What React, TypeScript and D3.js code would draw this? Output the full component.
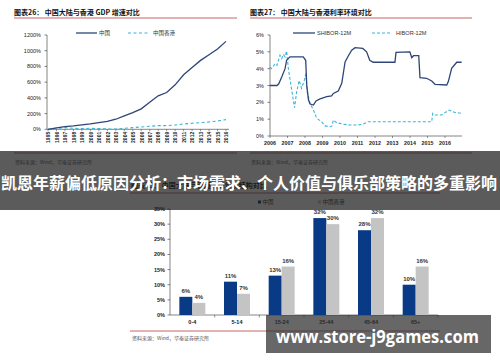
import * as d3 from "d3";

// 图表26: GDP growth vs 1995
const gdpYears = d3.range(1995, 2017);
const gdpChina = [0, 17, 34, 43, 55, 68, 85, 102, 128, 170, 213, 260, 345, 426, 468, 566, 694, 787, 877, 949, 1021, 1119];
const gdpHK = [0, 13, 21, 13, 9, 13, 9, 4, 4, 13, 21, 30, 38, 47, 47, 55, 68, 77, 85, 94, 106, 123];
const gdpTicks = [0, 200, 400, 600, 800, 1000, 1200];

// 图表27: 12M rates
const shiborT = [2006.0, 2006.4, 2006.5, 2006.67, 2006.86, 2006.95, 2007.14, 2007.9, 2008.04, 2008.1, 2008.2, 2008.29, 2008.48, 2008.63, 2008.86, 2009.24, 2009.52, 2009.62, 2009.9, 2010.1, 2010.29, 2010.48, 2010.67, 2010.86, 2011.3, 2011.52, 2011.7, 2011.9, 2013.14, 2013.2, 2013.99, 2014.1, 2014.2, 2014.5, 2014.57, 2014.95, 2015.24, 2015.43, 2016.1, 2016.19, 2016.38, 2016.67, 2016.95];
const shiborV = [3.0, 3.0, 3.1, 3.5, 4.0, 4.5, 4.7, 4.7, 4.5, 3.0, 2.14, 1.9, 1.84, 2.08, 2.2, 2.34, 2.38, 2.53, 2.67, 3.13, 4.4, 4.77, 5.1, 5.25, 5.2, 5.0, 4.5, 4.38, 4.38, 4.97, 5.0, 4.65, 4.77, 4.77, 3.47, 3.43, 3.27, 3.07, 3.03, 3.23, 4.02, 4.38, 4.38];
const hiborT = [2006.0, 2006.1, 2006.29, 2006.4, 2006.57, 2006.67, 2006.76, 2006.86, 2006.95, 2007.05, 2007.24, 2007.4, 2007.52, 2007.67, 2007.8, 2007.96, 2008.05, 2008.13, 2008.29, 2008.48, 2008.67, 2008.95, 2009.14, 2009.43, 2009.55, 2009.62, 2009.81, 2010.19, 2010.57, 2011.0, 2011.3, 2011.6, 2015.24, 2015.3, 2015.43, 2015.81, 2016.0, 2016.24, 2016.57, 2016.95];
const hiborV = [4.1, 4.0, 4.3, 4.2, 4.8, 4.6, 4.85, 4.7, 5.05, 4.0, 2.73, 1.68, 2.6, 3.3, 2.83, 3.3, 3.7, 2.6, 1.94, 1.55, 1.05, 0.85, 0.6, 0.55, 0.6, 0.95, 0.79, 0.7, 0.65, 0.65, 0.7, 0.85, 0.85, 1.35, 1.25, 1.25, 1.39, 1.54, 1.4, 1.35];
const rateYears = d3.range(2006, 2017);
const rateTicks = [0, 1, 2, 3, 4, 5, 6];

// 图表28: age structure
const ageGroups = ["0-4", "5-14", "15-24", "25-44", "45-64", "65+"];
const ageChina = [6, 11, 13, 32, 28, 10];
const ageHK = [4, 7, 16, 30, 32, 16];
const ageTicks = [0, 5, 10, 15, 20, 25, 30, 35];
const ageSeries = ["中国", "中国香港"];

const NAVY = "#2d4677";
const CYAN = "#3bb3da";
const RED = "#b5403c";
const CJK = "'Noto Sans CJK SC', 'Liberation Sans', sans-serif";
const LAT = "'Liberation Sans', Arial, sans-serif";

function GdpChart() {
  const x = d3.scaleLinear().domain([1995, 2016]).range([48, 226]);
  const y = d3.scaleLinear().domain([0, 1200]).range([129.3, 35]);
  const line = d3
    .line<number>()
    .x((_, i) => x(gdpYears[i]))
    .y((d) => y(d));
  return (
    <g>
      <text x={14} y={14.5} fontFamily={CJK} fontWeight={700} fontSize={7} fill="#111">
        图表26：  中国大陆与香港 GDP 增速对比
      </text>
      <line x1={14} x2={237} y1={18} y2={18} stroke={RED} strokeWidth={0.8} />
      <line x1={47} x2={47} y1={y(1200)} y2={y(0)} stroke="#333" strokeWidth={0.6} />
      <line x1={47} x2={229} y1={y(0)} y2={y(0)} stroke="#333" strokeWidth={0.6} />
      {gdpTicks.map((t) => (
        <g key={t}>
          <line x1={44.5} x2={47} y1={y(t)} y2={y(t)} stroke="#333" strokeWidth={0.6} />
          <text x={41} y={y(t) + 2} textAnchor="end" fontFamily={LAT} fontSize={5.5} fill="#222">
            {t}%
          </text>
        </g>
      ))}
      {gdpYears.map((yr) => (
        <g key={yr}>
          <line x1={x(yr)} x2={x(yr)} y1={y(0)} y2={y(0) + 2} stroke="#333" strokeWidth={0.5} />
          <text
            transform={`translate(${x(yr) + 0.3},${y(0) + 2.5}) rotate(-90)`}
            textAnchor="end"
            dominantBaseline="central"
            fontFamily={LAT}
            fontWeight={700}
            fontSize={5}
            fill="#222"
          >
            {yr}
          </text>
        </g>
      ))}
      <path d={line(gdpHK) ?? ""} fill="none" stroke={CYAN} strokeWidth={1.1} strokeDasharray="3,2.5" />
      <path d={line(gdpChina) ?? ""} fill="none" stroke={NAVY} strokeWidth={1.3} />
      <line x1={76} x2={97} y1={33} y2={33} stroke={NAVY} strokeWidth={1.3} />
      <text x={99} y={35} fontFamily={CJK} fontSize={5.5} fill="#333">中国</text>
      <line x1={128} x2={148} y1={33} y2={33} stroke={CYAN} strokeWidth={1.1} strokeDasharray="3,2.5" />
      <text x={153} y={35} fontFamily={CJK} fontSize={5.5} fill="#333">中国香港</text>
      <line x1={14} x2={237} y1={153} y2={153} stroke={RED} strokeWidth={0.8} />
      <text x={15} y={164} fontFamily={CJK} fontSize={5} fill="#555">资料来源：Wind，华泰证券研究所</text>
    </g>
  );
}

function RateChart() {
  const x = d3.scaleLinear().domain([2006, 2016]).range([270, 445]);
  const y = d3.scaleLinear().domain([0, 6]).range([136, 35]);
  const pts = (t: number[], v: number[]) => t.map((d, i) => [x(d), y(v[i])] as [number, number]);
  const line = d3.line();
  const xEnd = x(2016.97);
  return (
    <g>
      <text x={250} y={14.5} fontFamily={CJK} fontWeight={700} fontSize={7} fill="#111">
        图表27：  中国大陆与香港利率环境对比
      </text>
      <line x1={250} x2={472} y1={18} y2={18} stroke={RED} strokeWidth={0.8} />
      <line x1={270} x2={270} y1={y(6)} y2={y(0)} stroke="#333" strokeWidth={0.6} />
      <line x1={270} x2={xEnd} y1={y(0)} y2={y(0)} stroke="#333" strokeWidth={0.6} />
      {rateTicks.map((t) => (
        <g key={t}>
          <line x1={267.5} x2={270} y1={y(t)} y2={y(t)} stroke="#333" strokeWidth={0.6} />
          <text x={264} y={y(t) + 2} textAnchor="end" fontFamily={LAT} fontSize={5.5} fill="#222">
            {t}%
          </text>
        </g>
      ))}
      {rateYears.map((yr) => (
        <g key={yr}>
          <line x1={x(yr)} x2={x(yr)} y1={y(0)} y2={y(0) + 2} stroke="#333" strokeWidth={0.5} />
          <text x={x(yr)} y={145} textAnchor="middle" fontFamily={LAT} fontWeight={700} fontSize={5.3} fill="#222">
            {yr}
          </text>
        </g>
      ))}
      <path d={line(pts(hiborT, hiborV)) ?? ""} fill="none" stroke={CYAN} strokeWidth={1.1} strokeDasharray="3,2" />
      <path d={line(pts(shiborT, shiborV)) ?? ""} fill="none" stroke={NAVY} strokeWidth={1.3} />
      <line x1={293} x2={315} y1={33} y2={33} stroke={NAVY} strokeWidth={1.3} />
      <text x={317} y={35} fontFamily={LAT} fontSize={5.6} fill="#333">SHIBOR-12M</text>
      <line x1={372} x2={392} y1={33} y2={33} stroke={CYAN} strokeWidth={1.1} strokeDasharray="3,2" />
      <text x={396} y={35} fontFamily={LAT} fontSize={5.6} fill="#333">HIBOR-12M</text>
      <line x1={250} x2={472} y1={153} y2={153} stroke={RED} strokeWidth={0.8} />
      <text x={251} y={164} fontFamily={CJK} fontSize={5} fill="#555">资料来源：Wind，华泰证券研究所</text>
    </g>
  );
}

function AgeChart() {
  const x0 = d3.scaleBand().domain(ageGroups).range([170, 438]).padding(0);
  const x1 = d3.scaleBand().domain(ageSeries).range([0, x0.bandwidth()]).paddingOuter(0.72).paddingInner(0);
  const y = d3.scaleLinear().domain([0, 35]).range([315, 209]);
  const colors = ["#083a85", "#c4c4c4"];
  const vals = [ageChina, ageHK];
  return (
    <g>
      <text x={131} y={188} fontFamily={CJK} fontWeight={700} fontSize={7} fill="#111">
        图表28：  中国大陆与香港人口年龄结构对比
      </text>
      <line x1={130} x2={440} y1={193} y2={193} stroke={RED} strokeWidth={0.8} />
      {ageSeries.map((s, i) => (
        <g key={s}>
          <rect x={258 + i * 60} y={200.5} width={3} height={3} fill={colors[i]} />
          <text x={262.5 + i * 60} y={204} fontFamily={CJK} fontSize={5.5} fill="#333">{s}</text>
        </g>
      ))}
      <line x1={170} x2={170} y1={y(35)} y2={y(0)} stroke="#333" strokeWidth={0.6} />
      <line x1={170} x2={438} y1={y(0)} y2={y(0)} stroke="#333" strokeWidth={0.6} />
      {ageTicks.map((t) => (
        <g key={t}>
          <line x1={167.5} x2={170} y1={y(t)} y2={y(t)} stroke="#333" strokeWidth={0.6} />
          <text x={165} y={y(t) + 2} textAnchor="end" fontFamily={LAT} fontWeight={700} fontSize={5.5} fill="#222">
            {t}%
          </text>
        </g>
      ))}
      {ageGroups.map((g, gi) => (
        <g key={g}>
          <line
            x1={(x0(g) ?? 0) + x0.bandwidth()}
            x2={(x0(g) ?? 0) + x0.bandwidth()}
            y1={y(0)}
            y2={y(0) + 2.5}
            stroke="#333"
            strokeWidth={0.5}
          />
          <text
            x={(x0(g) ?? 0) + x0.bandwidth() / 2}
            y={324}
            textAnchor="middle"
            fontFamily={LAT}
            fontWeight={700}
            fontSize={5.5}
            fill="#222"
          >
            {g}
          </text>
          {ageSeries.map((s, si) => {
            const v = vals[si][gi];
            const bx = (x0(g) ?? 0) + (x1(s) ?? 0);
            return (
              <g key={s}>
                <rect x={bx} y={y(v)} width={x1.bandwidth()} height={y(0) - y(v)} fill={colors[si]} />
                <text
                  x={bx + x1.bandwidth() / 2}
                  y={y(v) - 4}
                  textAnchor="middle"
                  fontFamily={LAT}
                  fontWeight={700}
                  fontSize={6}
                  fill="#333"
                >
                  {v}%
                </text>
              </g>
            );
          })}
        </g>
      ))}
      <line x1={130} x2={440} y1={331} y2={331} stroke={RED} strokeWidth={0.8} />
      <text x={132} y={340} fontFamily={CJK} fontSize={5} fill="#555">资料来源：Wind，华泰证券研究所</text>
    </g>
  );
}

export default function App() {
  return (
    <svg
      width={500}
      height={362}
      viewBox="0 0 500 362"
      style={{ position: "absolute", left: 0, top: 0, background: "#fff" }}
    >
      <rect width={500} height={362} fill="#fff" />
      <GdpChart />
      <RateChart />
      <AgeChart />
      <rect x={0} y={151} width={500} height={59} fill="rgba(28,28,28,0.72)" />
      <text
        x={1}
        y={188.5}
        fontFamily={CJK}
        fontWeight={700}
        fontSize={16}
        fill="#fff"
        textLength={496}
        lengthAdjust="spacingAndGlyphs"
      >
        凯恩年薪偏低原因分析：市场需求、个人价值与俱乐部策略的多重影响
      </text>
      <rect x={266} y={315} width={225} height={38} fill="rgba(45,45,45,0.72)" />
      <text
        x={276}
        y={343}
        fontFamily="'Open Sans', 'DejaVu Sans', sans-serif"
        fontWeight={700}
        fontSize={17}
        fill="#fff"
        textLength={203}
        lengthAdjust="spacingAndGlyphs"
      >
        www.store-j9games.com
      </text>
    </svg>
  );
}
